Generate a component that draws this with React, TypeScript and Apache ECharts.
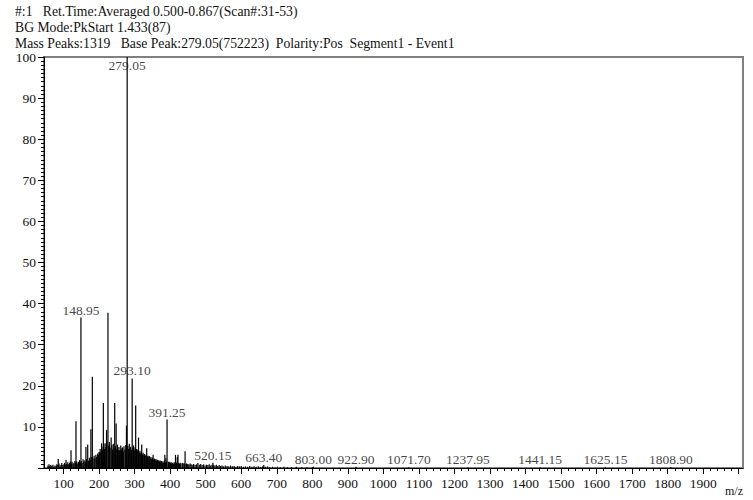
import React, { useEffect, useRef } from "react";
import * as echarts from "echarts";

const headerLines = [
  "#:1   Ret.Time:Averaged 0.500-0.867(Scan#:31-53)",
  "BG Mode:PkStart 1.433(87)",
  "Mass Peaks:1319   Base Peak:279.05(752223)  Polarity:Pos  Segment1 - Event1",
];

// Prominent peaks (m/z, relative intensity %)
const peakMz = [85, 107, 121, 135, 148.95, 163, 168, 177, 181, 198, 200, 207, 212, 221, 225, 234, 244, 248, 259, 264, 277, 279.05, 293.1, 303, 311, 320, 334, 352, 385, 388, 391.25, 415, 420, 422, 442, 520.15, 663.4, 803.0, 922.9, 1071.7, 1237.95, 1441.15, 1625.15, 1808.9];
const peakInt = [2.2, 2.0, 4.3, 11.4, 36.6, 5.1, 5.7, 9.4, 22.2, 3.1, 3.9, 6.0, 15.8, 9.2, 37.8, 7.4, 15.8, 10.8, 4.4, 4.8, 10.3, 100, 21.8, 15.2, 7.4, 5.7, 4.8, 3.2, 3.2, 2.4, 11.8, 3.2, 2.6, 3.2, 4.1, 1.3, 0.7, 0.3, 0.3, 0.2, 0.2, 0.2, 0.2, 0.2];

// Dense low-level peaks
const noiseMz = [56, 59, 61, 64, 67, 70, 73, 76, 79, 81, 84, 87, 90, 93, 95, 98, 101, 103, 106, 109, 112, 114, 117, 119, 122, 124, 127, 129, 132, 134, 137, 140, 142, 145, 147, 150, 152, 155, 157, 160, 162, 165, 170, 173, 175, 178, 183, 186, 188, 191, 193, 196, 201, 203, 205, 208, 210, 213, 215, 217, 219, 222, 227, 229, 231, 236, 238, 240, 242, 246, 250, 252, 254, 256, 258, 261, 263, 266, 268, 270, 273, 275, 281, 283, 285, 287, 289, 291, 295, 297, 299, 301, 305, 307, 309, 313, 315, 317, 319, 322, 324, 326, 328, 330, 332, 336, 338, 340, 342, 344, 346, 348, 350, 354, 356, 358, 360, 362, 364, 366, 368, 370, 372, 374, 376, 378, 380, 382, 384, 386, 390, 395, 397, 399, 401, 403, 405, 407, 409, 411, 413, 418, 424, 426, 428, 430, 434, 436, 439, 441, 446, 448, 450, 453, 456, 459, 462, 466, 470, 474, 478, 482, 486, 490, 494, 498, 502, 506, 510, 514, 518, 522, 526, 530, 534, 538, 542, 546, 550, 555, 560, 565, 570, 575, 580, 585, 590, 595, 600, 606, 612, 618, 624, 630, 636, 642, 648, 654, 660, 668, 674, 680, 688, 695, 702, 710, 720, 730, 742, 755, 770, 785, 800];
const noiseInt = [0.6, 0.9, 0.4, 0.7, 0.5, 0.8, 0.3, 0.6, 0.4, 0.9, 0.7, 1.1, 0.6, 0.8, 1.2, 0.7, 0.9, 1.3, 0.8, 1.0, 1.4, 0.9, 1.2, 1.6, 1.1, 1.5, 1.0, 1.3, 1.7, 1.2, 1.6, 1.1, 1.5, 1.9, 1.3, 1.7, 1.2, 2.1, 1.6, 1.9, 1.4, 2.2, 1.8, 2.5, 1.9, 2.7, 2.3, 3.0, 2.4, 3.2, 2.7, 3.5, 3.8, 4.6, 3.9, 5.2, 4.3, 5.8, 4.6, 6.0, 5.1, 6.4, 5.4, 6.3, 4.9, 5.6, 4.5, 5.9, 4.8, 5.3, 4.6, 5.7, 4.4, 5.1, 4.2, 5.5, 4.3, 5.0, 4.1, 5.3, 4.5, 5.6, 5.4, 4.6, 5.9, 4.8, 5.2, 4.4, 4.9, 5.5, 4.3, 5.0, 4.6, 4.0, 4.5, 3.8, 4.2, 3.5, 3.9, 3.3, 3.7, 3.1, 3.4, 2.9, 3.2, 2.8, 3.0, 2.6, 2.9, 2.4, 2.7, 2.2, 2.5, 2.1, 2.3, 1.9, 2.2, 1.8, 2.0, 1.7, 1.9, 1.6, 1.8, 1.5, 1.7, 1.4, 1.6, 1.3, 1.8, 1.4, 1.6, 1.5, 1.3, 1.5, 1.2, 1.4, 1.1, 1.3, 1.0, 1.4, 1.1, 1.3, 1.2, 1.0, 1.3, 1.1, 1.2, 1.0, 1.2, 0.9, 1.1, 0.9, 1.0, 0.8, 1.1, 0.9, 0.8, 1.0, 0.7, 0.9, 1.2, 0.8, 1.0, 0.7, 0.9, 0.6, 0.8, 0.7, 0.9, 0.6, 0.8, 0.7, 0.6, 0.8, 0.5, 0.7, 0.5, 0.6, 0.4, 0.6, 0.5, 0.4, 0.6, 0.4, 0.5, 0.3, 0.5, 0.4, 0.5, 0.3, 0.4, 0.3, 0.5, 0.3, 0.4, 0.3, 0.4, 0.3, 0.4, 0.3, 0.4, 0.2, 0.3, 0.2, 0.3, 0.2, 0.3, 0.2, 0.2, 0.3, 0.2, 0.2, 0.2];

// Labelled peaks
const labelMz = [148.95, 279.05, 293.1, 391.25, 520.15, 663.4, 803.0, 922.9, 1071.7, 1237.95, 1441.15, 1625.15, 1808.9];
const labelInt = [36.6, 100, 21.8, 11.8, 1.3, 0.7, 0.3, 0.3, 0.2, 0.2, 0.2, 0.2, 0.2];
const labelText = ["148.95", "279.05", "293.10", "391.25", "520.15", "663.40", "803.00", "922.90", "1071.70", "1237.95", "1441.15", "1625.15", "1808.90"];

const xMajorTicks = [100, 200, 300, 400, 500, 600, 700, 800, 900, 1000, 1100, 1200, 1300, 1400, 1500, 1600, 1700, 1800, 1900, 2000];
const xMinorTicks = [60, 80, 120, 140, 160, 180, 220, 240, 260, 280, 320, 340, 360, 380, 420, 440, 460, 480, 520, 540, 560, 580, 620, 640, 660, 680, 720, 740, 760, 780, 820, 840, 860, 880, 920, 940, 960, 980, 1020, 1040, 1060, 1080, 1120, 1140, 1160, 1180, 1220, 1240, 1260, 1280, 1320, 1340, 1360, 1380, 1420, 1440, 1460, 1480, 1520, 1540, 1560, 1580, 1620, 1640, 1660, 1680, 1720, 1740, 1760, 1780, 1820, 1840, 1860, 1880, 1920, 1940, 1960, 1980, 2000];
const xLabels = [100, 200, 300, 400, 500, 600, 700, 800, 900, 1000, 1100, 1200, 1300, 1400, 1500, 1600, 1700, 1800, 1900];

const FONT = "'Liberation Serif', 'Times New Roman', serif";
const X_MIN = 45;
const X_MAX = 2012;

export default function App() {
  const ref = useRef<HTMLDivElement>(null);
  useEffect(() => {
    if (!ref.current) return;
    const chart = echarts.init(ref.current, null, { renderer: "svg" });
    const sticks: number[][] = [];
    noiseMz.forEach((m, i) => sticks.push([m, noiseInt[i]]));
    peakMz.forEach((m, i) => sticks.push([m, peakInt[i]]));
    const labelData = labelMz.map((m, i) => ({
      value: [m, labelInt[i]],
      name: labelText[i],
      label:
        labelInt[i] >= 99
          ? { position: "bottom", distance: 1 }
          : { position: "top", distance: 0 },
    }));
    const xAxisBase = {
      type: "value",
      min: X_MIN,
      max: X_MAX,
      position: "bottom",
      splitLine: { show: false },
    };
    chart.setOption({
      animation: false,
      backgroundColor: "#ffffff",
      grid: {
        left: 44,
        right: 10,
        top: 57,
        bottom: 32,
        show: true,
        borderColor: "#808080",
        borderWidth: 2,
        backgroundColor: "transparent",
      },
      xAxis: [
        {
          ...xAxisBase,
          axisLine: { show: true, lineStyle: { color: "#000", width: 1 } },
          axisTick: {
            show: true,
            customValues: xMajorTicks,
            length: 6,
            lineStyle: { color: "#000", width: 1 },
          },
          axisLabel: {
            show: true,
            customValues: xLabels,
            formatter: (v: number) => String(v),
            color: "#111",
            fontFamily: FONT,
            fontSize: 13.5,
            margin: 8,
          },
        },
        {
          ...xAxisBase,
          axisLine: { show: false },
          axisTick: {
            show: true,
            customValues: xMinorTicks,
            length: 3,
            lineStyle: { color: "#000", width: 1 },
          },
          axisLabel: { show: false },
        },
      ],
      yAxis: {
        type: "value",
        min: 0,
        max: 100,
        interval: 10,
        axisLine: { show: true, lineStyle: { color: "#000", width: 1 } },
        axisTick: { show: true, length: 6, lineStyle: { color: "#000" } },
        minorTick: { show: true, splitNumber: 10, length: 3, lineStyle: { color: "#000" } },
        splitLine: { show: false },
        axisLabel: {
          color: "#111",
          fontFamily: FONT,
          fontSize: 13.5,
          margin: 8,
          formatter: (v: number) => (v === 0 ? "" : String(v)),
        },
      },
      series: [
        {
          type: "bar",
          xAxisIndex: 0,
          data: sticks,
          barWidth: 1.2,
          itemStyle: { color: "#000" },
          silent: true,
        },
        {
          type: "scatter",
          xAxisIndex: 0,
          data: labelData,
          symbolSize: 1,
          itemStyle: { color: "rgba(0,0,0,0)" },
          label: {
            show: true,
            formatter: (p: any) => p.name,
            color: "#111",
            fontFamily: FONT,
            fontSize: 13.5,
          },
          z: 5,
        },
      ],
      graphic: [
        ...headerLines.map((t, i) => ({
          type: "text",
          left: 15,
          top: 4 + i * 16,
          style: { text: t, fill: "#111", font: `13.7px ${FONT}` },
        })),
        {
          type: "text",
          left: 725,
          top: 485,
          style: { text: "m/z", fill: "#111", font: `12px ${FONT}` },
        },
      ],
    });
    return () => chart.dispose();
  }, []);
  return (
    <div
      ref={ref}
      style={{ position: "fixed", left: 0, top: 0, width: 753, height: 500 }}
    />
  );
}
